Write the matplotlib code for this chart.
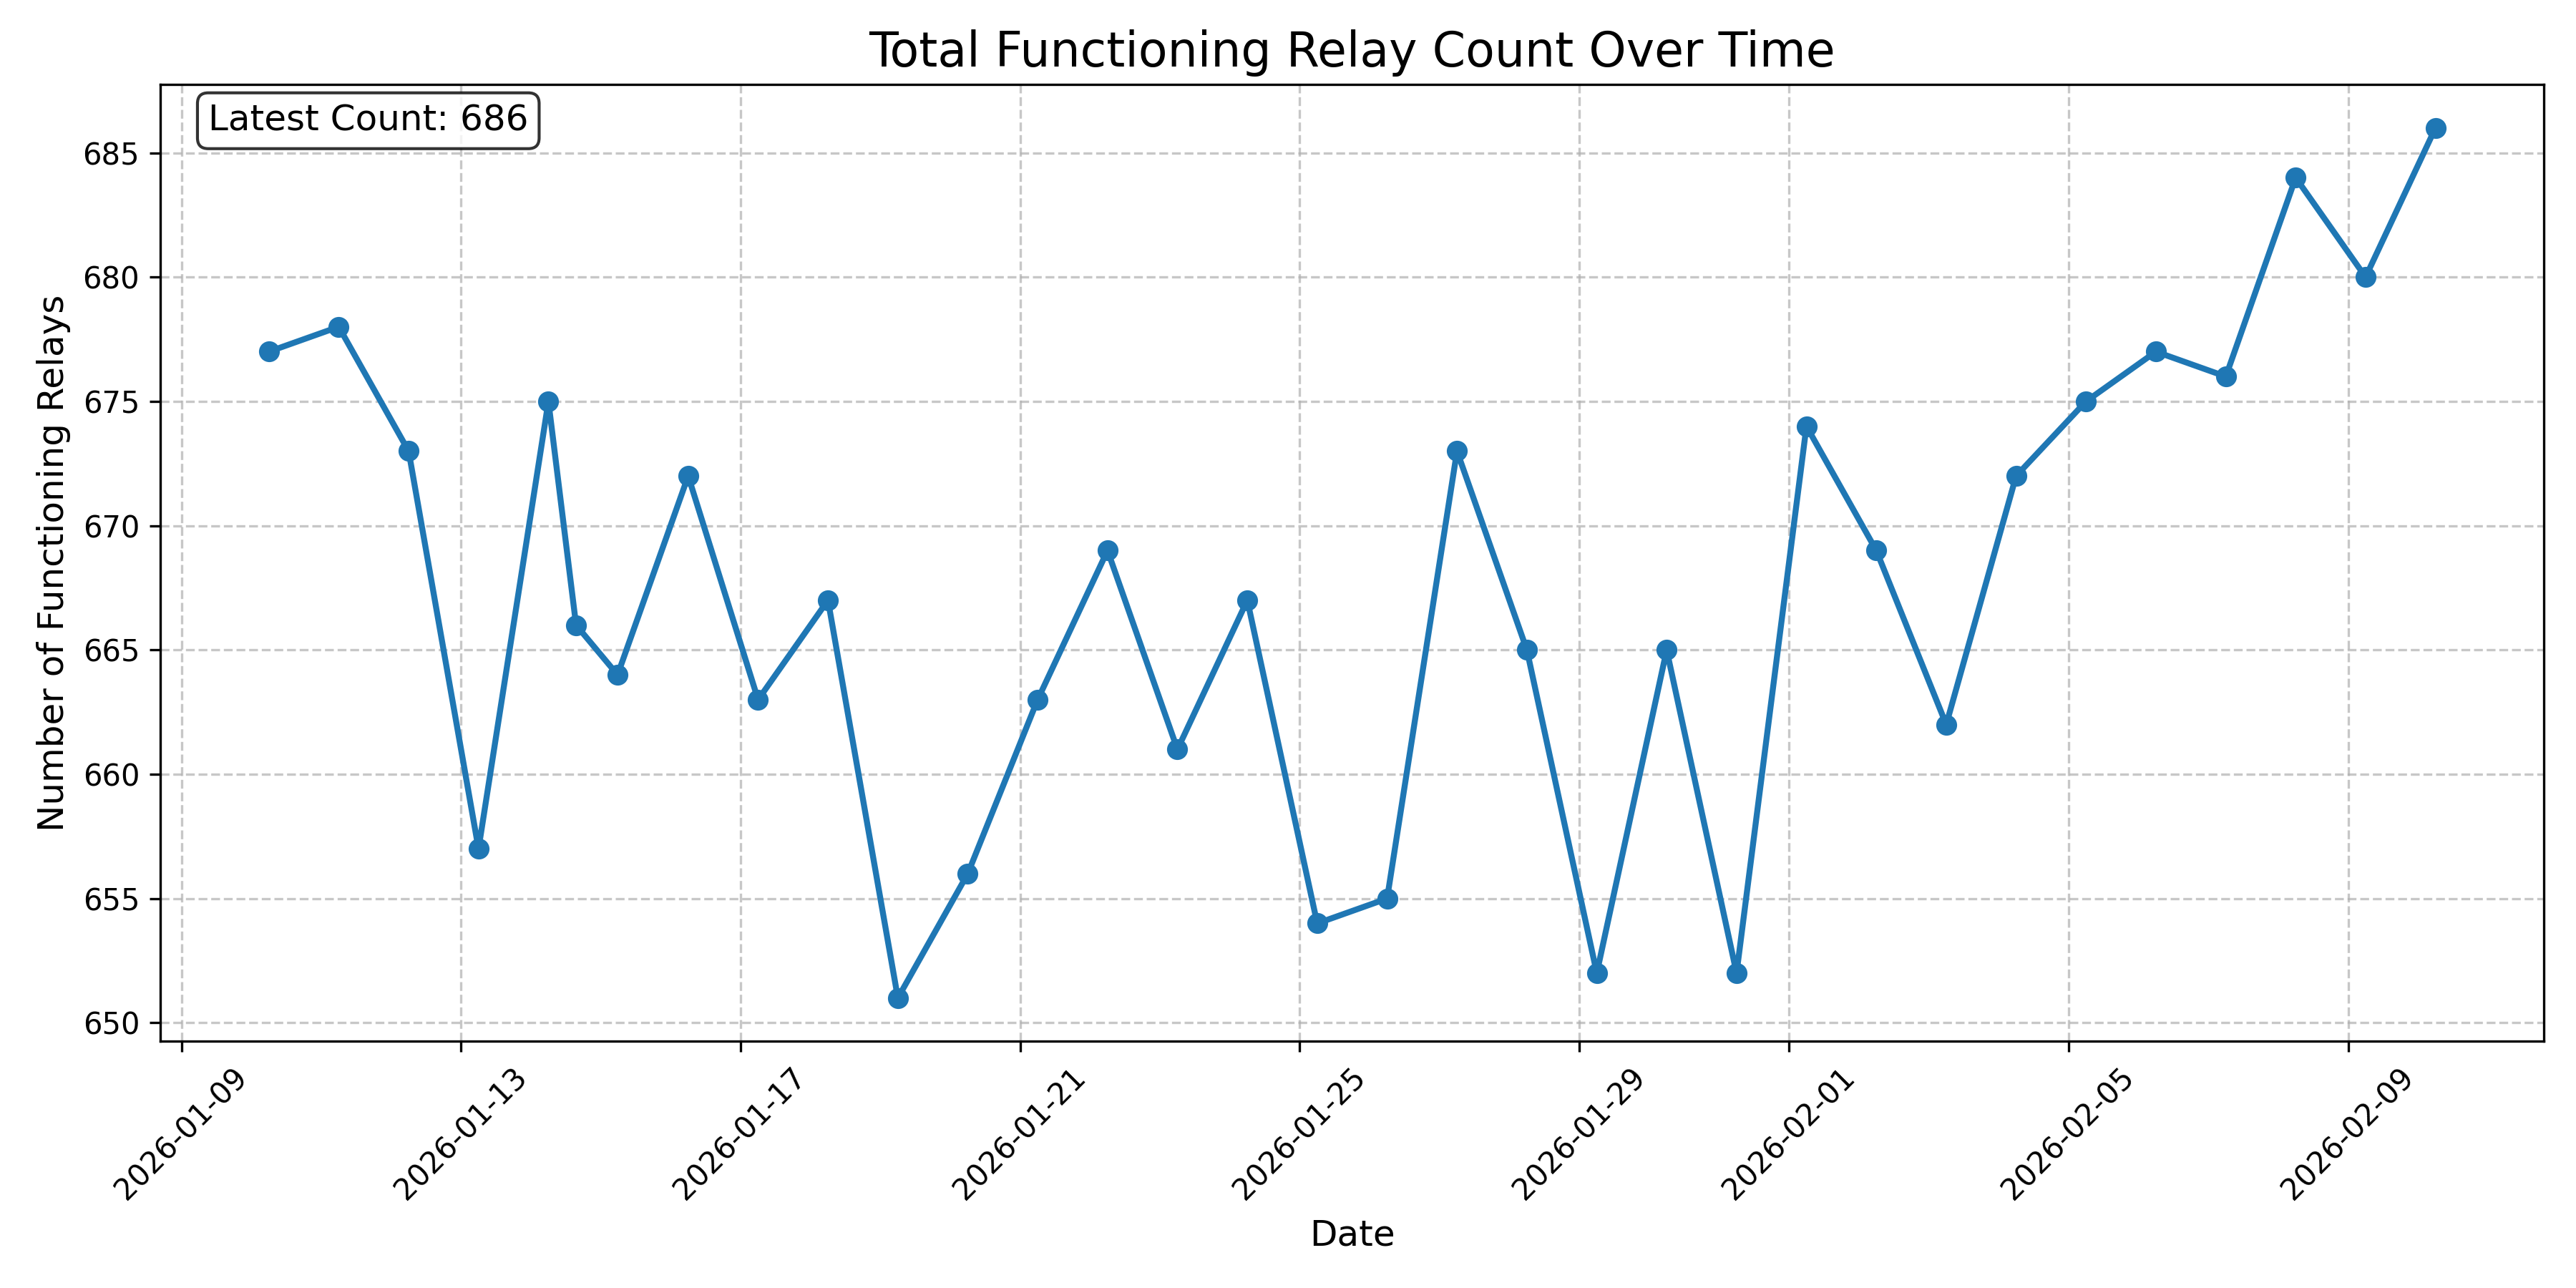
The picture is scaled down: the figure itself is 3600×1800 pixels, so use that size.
import matplotlib
matplotlib.use('Agg')
import matplotlib.pyplot as plt
import matplotlib.dates as mdates
import pandas as pd

# --- data ---
timestamps = [
    '2026-01-10 06:00', '2026-01-11 06:00', '2026-01-12 06:00', '2026-01-13 06:00',
    '2026-01-14 06:00', '2026-01-14 15:30', '2026-01-15 05:45', '2026-01-16 06:00',
    '2026-01-17 06:00', '2026-01-18 06:00', '2026-01-19 06:00', '2026-01-20 06:00',
    '2026-01-21 06:00', '2026-01-22 06:00', '2026-01-23 06:00', '2026-01-24 06:00',
    '2026-01-25 06:00', '2026-01-26 06:00', '2026-01-27 06:00', '2026-01-28 06:00',
    '2026-01-29 06:00', '2026-01-30 06:00', '2026-01-31 06:00', '2026-02-01 06:00',
    '2026-02-02 06:00', '2026-02-03 06:00', '2026-02-04 06:00', '2026-02-05 06:00',
    '2026-02-06 06:00', '2026-02-07 06:00', '2026-02-08 06:00', '2026-02-09 06:00',
    '2026-02-10 06:00',
]
relay_counts = [
    677, 678, 673, 657, 675, 666, 664, 672, 663, 667, 651, 656, 663, 669, 661, 667,
    654, 655, 673, 665, 652, 665, 652, 674, 669, 662, 672, 675, 677, 676, 684, 680, 686,
]

dates = pd.to_datetime(timestamps)

fig, ax = plt.subplots(figsize=(12, 6))
ax.plot(dates, relay_counts, marker='o', linewidth=2, markersize=6, color='#1f77b4')

ax.set_title('Total Functioning Relay Count Over Time', fontsize=16)
ax.set_xlabel('Date', fontsize=12)
ax.set_ylabel('Number of Functioning Relays', fontsize=12)
ax.grid(True, linestyle='--', alpha=0.7)

ax.xaxis.set_major_formatter(mdates.DateFormatter('%Y-%m-%d'))
plt.setp(ax.get_xticklabels(), rotation=45)

# 最新値の表示
ax.text(0.02, 0.98, f'Latest Count: {relay_counts[-1]}', transform=ax.transAxes,
        fontsize=12, verticalalignment='top',
        bbox=dict(boxstyle='round', facecolor='white', alpha=0.8))

plt.tight_layout()
plt.savefig('out.png', dpi=300)
